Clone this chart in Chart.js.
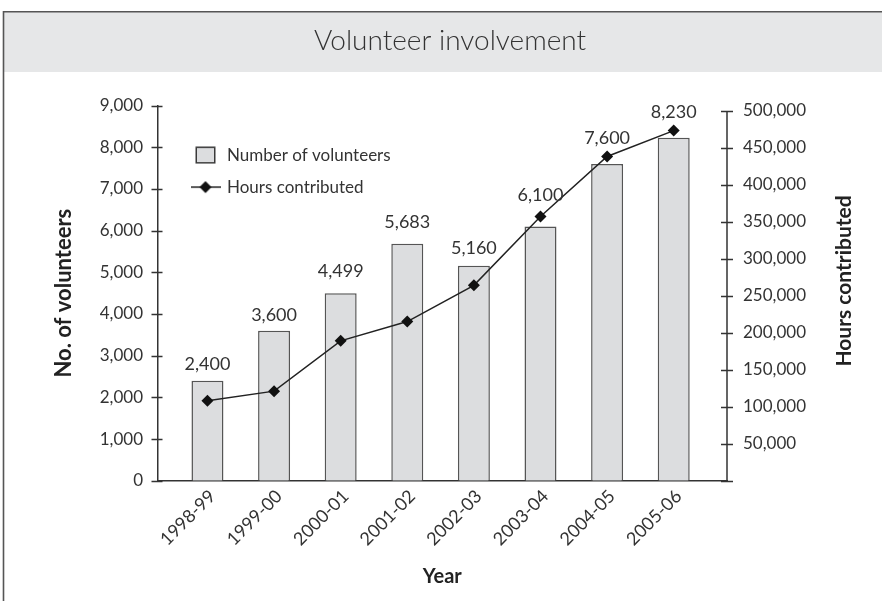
<!DOCTYPE html>
<html><head><meta charset="utf-8">
<script src="https://cdn.jsdelivr.net/npm/chart.js@4.4.1/dist/chart.umd.min.js"></script>
<style>html,body{margin:0;padding:0;background:#fff;overflow:hidden}canvas{display:block}</style>
</head><body>
<canvas id="c" width="882" height="601"></canvas>
<script>
const categories = ['1998-99','1999-00','2000-01','2001-02','2002-03','2003-04','2004-05','2005-06'];
const volunteers = [2400, 3600, 4499, 5683, 5160, 6100, 7600, 8230];
const hours = [108000, 121000, 189000, 215000, 264000, 357000, 438000, 473000];
const volunteerTicks = [0, 1000, 2000, 3000, 4000, 5000, 6000, 7000, 8000, 9000];
const hoursTicks = [0, 50000, 100000, 150000, 200000, 250000, 300000, 350000, 400000, 450000, 500000];

const FONT = 'Lato, "DejaVu Sans", sans-serif';
const TXT = '#333333';

function makeBoxIcon() {
  const c = document.createElement('canvas'); c.width = 21; c.height = 18;
  const g = c.getContext('2d');
  g.fillStyle = '#dcdddf'; g.fillRect(1, 1, 19, 16);
  g.strokeStyle = '#3a3a3a'; g.lineWidth = 1.5; g.strokeRect(1.25, 1.25, 18.5, 15.5);
  return c;
}
function makeLineIcon() {
  const c = document.createElement('canvas'); c.width = 30; c.height = 14;
  const g = c.getContext('2d');
  g.strokeStyle = '#222'; g.lineWidth = 1.5;
  g.beginPath(); g.moveTo(0, 7); g.lineTo(30, 7); g.stroke();
  g.fillStyle = '#111';
  g.beginPath(); g.moveTo(15, 1); g.lineTo(21, 7); g.lineTo(15, 13); g.lineTo(9, 7); g.closePath(); g.fill();
  return c;
}
const legendIcons = [makeBoxIcon(), makeLineIcon()];

const framePlugin = {
  id: 'frame',
  beforeDraw(chart) {
    const ctx = chart.ctx;
    ctx.save();
    ctx.fillStyle = '#e6e7e8';
    ctx.fillRect(3, 12, 879, 60);
    ctx.strokeStyle = '#555';
    ctx.lineWidth = 1.6;
    ctx.beginPath();
    ctx.moveTo(3.5, 601); ctx.lineTo(3.5, 11.7); ctx.lineTo(882, 11.7);
    ctx.stroke();
    ctx.restore();
  }
};

const legendPlace = {
  id: 'legendPlace',
  afterLayout(chart) {
    const lg = chart.legend, ca = chart.chartArea;
    if (!lg) return;
    lg.left = ca.left + 20;
    lg.top = ca.top + 26;
  }
};

const axisDecor = {
  id: 'axisDecor',
  afterDraw(chart) {
    const ctx = chart.ctx;
    const y = chart.scales.y, y1 = chart.scales.y1;
    ctx.save();
    ctx.strokeStyle = '#333';
    ctx.lineWidth = 1.5;
    ctx.beginPath();
    y.ticks.forEach(t => {
      const py = Math.round(y.getPixelForValue(t.value)) + 0.5;
      ctx.moveTo(y.right - 6, py); ctx.lineTo(y.right + 5, py);
    });
    const topPx = y1.getPixelForValue(y1.ticks[y1.ticks.length - 1].value);
    ctx.moveTo(y1.left, topPx); ctx.lineTo(y1.left, chart.chartArea.bottom);
    y1.ticks.forEach(t => {
      const py = Math.round(y1.getPixelForValue(t.value)) + 0.5;
      ctx.moveTo(y1.left - 6, py); ctx.lineTo(y1.left + 6, py);
    });
    ctx.stroke();
    // right-axis title, reading bottom to top
    const tt = y1.options.title;
    ctx.fillStyle = tt.color;
    ctx.font = 'bold 21px ' + FONT;
    ctx.textAlign = 'center'; ctx.textBaseline = 'middle';
    ctx.translate(844, 281);
    ctx.rotate(-Math.PI / 2);
    ctx.fillText(tt.text, 0, 0);
    ctx.restore();
  }
};

const barLabels = {
  id: 'barLabels',
  afterDatasetsDraw(chart, args, opts) {
    const ctx = chart.ctx;
    const meta = chart.getDatasetMeta(0);
    ctx.save();
    ctx.fillStyle = TXT;
    ctx.font = '18px ' + FONT;
    ctx.textAlign = 'center'; ctx.textBaseline = 'middle';
    meta.data.forEach((el, i) => {
      const v = chart.data.datasets[0].data[i].y;
      ctx.fillText(v.toLocaleString('en-US'), el.x, el.y - opts.offsets[i]);
    });
    ctx.restore();
  }
};

new Chart(document.getElementById('c'), {
  type: 'bar',
  data: {
    datasets: [
      {
        type: 'bar',
        label: 'Number of volunteers',
        data: volunteers.map((v, i) => ({ x: i, y: v })),
        backgroundColor: '#dcdddf',
        borderColor: '#555',
        borderWidth: { top: 1.5, left: 1.5, right: 1.5, bottom: 0 },
        categoryPercentage: 1,
        barPercentage: 0.48,
        yAxisID: 'y', xAxisID: 'x',
        order: 1
      },
      {
        type: 'line',
        label: 'Hours contributed',
        data: hours.map((v, i) => ({ x: i, y: v })),
        borderColor: '#222',
        borderWidth: 1.5,
        pointStyle: 'rectRot',
        pointRadius: 6,
        pointBackgroundColor: '#111',
        pointBorderColor: '#111',
        pointBorderWidth: 0,
        tension: 0,
        yAxisID: 'y1', xAxisID: 'x',
        order: 0
      }
    ]
  },
  options: {
    responsive: false,
    animation: false,
    devicePixelRatio: 1,
    layout: { padding: { top: 12, left: 18, right: 0, bottom: 0 } },
    scales: {
      x: {
        type: 'linear', min: -0.75, max: 7.8, offset: false,
        grid: { display: false, drawTicks: false },
        border: { display: true, color: '#333', width: 1.5 },
        ticks: {
          stepSize: 1, includeBounds: false, autoSkip: false,
          minRotation: 45, maxRotation: 45, padding: 5, labelOffset: 5,
          color: TXT, font: { family: FONT, size: 18 },
          callback: (v) => (Number.isInteger(v) && categories[v] !== undefined) ? categories[v] : ''
        },
        title: { display: true, text: 'Year', color: '#222', font: { family: FONT, size: 20, weight: 'bold' }, padding: { top: 0, bottom: 12.5 } },
        afterFit: (s) => { s.height = 120.3; }
      },
      y: {
        position: 'left', min: 0, max: 9000,
        grid: { display: false, drawTicks: false },
        border: { display: true, color: '#333', width: 1.5 },
        ticks: { padding: 14.5, color: TXT, font: { family: FONT, size: 17 } },
        afterBuildTicks: (s) => { s.ticks = volunteerTicks.map(v => ({ value: v })); },
        title: { display: true, text: 'No. of volunteers', color: '#222', font: { family: FONT, size: 22, weight: 'bold' }, padding: { top: 33, bottom: 0 } },
        afterFit: (s) => { s.width = 139.5; }
      },
      y1: {
        position: 'right', min: 0, max: 506800,
        grid: { display: false, drawTicks: false },
        border: { display: false },
        ticks: {
          padding: 16, color: TXT, font: { family: FONT, size: 17 },
          callback: (v) => v === 0 ? '' : v.toLocaleString('en-US')
        },
        afterBuildTicks: (s) => { s.ticks = hoursTicks.map(v => ({ value: v })); },
        title: { display: false, text: 'Hours contributed', color: '#222' },
        afterFit: (s) => { s.width = 155; }
      }
    },
    plugins: {
      tooltip: { enabled: false },
      title: {
        display: true, text: 'Volunteer involvement', color: TXT,
        font: { family: FONT, size: 28, weight: '300' },
        padding: { top: 12.5, bottom: 47.5 }
      },
      legend: {
        display: true, position: 'chartArea', align: 'start',
        labels: {
          usePointStyle: true, pointStyleWidth: 26, padding: 15,
          color: TXT, font: { family: FONT, size: 17 },
          sort: (a, b) => a.datasetIndex - b.datasetIndex,
          generateLabels: (chart) => {
            const items = Chart.defaults.plugins.legend.labels.generateLabels(chart);
            items.forEach(it => { it.pointStyle = legendIcons[it.datasetIndex]; });
            return items;
          }
        }
      },
      barLabels: { offsets: [16, 15, 22, 22, 17, 31, 26, 26] }
    }
  },
  plugins: [framePlugin, legendPlace, axisDecor, barLabels]
});
</script>
</body></html>
